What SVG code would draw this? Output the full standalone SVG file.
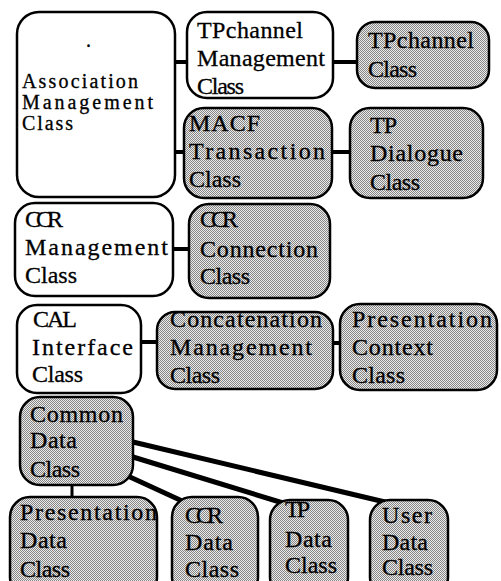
<svg xmlns="http://www.w3.org/2000/svg" width="501" height="581" viewBox="0 0 501 581">
<defs>
<pattern id="dots" width="2" height="2" patternUnits="userSpaceOnUse">
<rect width="2" height="2" fill="#ebebeb"/>
<rect x="0" y="0" width="1" height="1" fill="#858585"/>
<rect x="1" y="1" width="1" height="1" fill="#858585"/>
</pattern>
</defs>
<style>
.box{stroke:#000;stroke-width:2.5;fill:#fff}
.g{fill:url(#dots)}
.t{font-family:"Liberation Serif","Times New Roman",serif;font-size:24px;fill:#000;stroke:#000;stroke-width:0.3}
.s{font-size:20px}
.c{stroke:#000;stroke-width:4;fill:none}
.c2{stroke:#000;stroke-width:5;fill:none;stroke-linecap:round}
</style>
<rect width="501" height="581" fill="#fff"/>
<g id="connectors">
<line class="c" x1="175" y1="62" x2="188" y2="62"/>
<line class="c" x1="175" y1="152" x2="185" y2="152"/>
<line class="c" x1="333" y1="62" x2="358" y2="62"/>
<line class="c" x1="332" y1="152" x2="351" y2="152"/>
<line class="c" x1="173" y1="249" x2="190" y2="249"/>
<line class="c" x1="141" y1="342" x2="158" y2="342"/>
<line class="c" x1="333" y1="343" x2="341" y2="343"/>
<line class="c" style="stroke-width:3" x1="72" y1="485" x2="72" y2="498"/>
<line class="c2" x1="133" y1="442" x2="385" y2="502"/>
<line class="c2" x1="133" y1="457" x2="283" y2="503"/>
<line class="c2" x1="130" y1="477" x2="180" y2="500"/>
</g>
<g id="assoc">
<rect class="box" x="17" y="12" width="158" height="185" rx="22"/>
<text class="t s" x="86" y="47">.</text>
<text class="t s" x="22" y="88" textLength="116" lengthAdjust="spacing">Association</text>
<text class="t s" x="22" y="109" textLength="131" lengthAdjust="spacing">Management</text>
<text class="t s" x="22" y="130" textLength="51" lengthAdjust="spacing">Class</text>
</g>
<g id="tpchMgmt">
<rect class="box" x="187" y="12" width="146" height="86" rx="20"/>
<text class="t" x="197" y="38" textLength="106" lengthAdjust="spacing">TPchannel</text>
<text class="t" x="197" y="66" textLength="128" lengthAdjust="spacing">Management</text>
<text class="t" x="197" y="94" textLength="47" lengthAdjust="spacing">Class</text>
</g>
<g id="macf">
<rect class="box g" x="184" y="108" width="148" height="90" rx="20"/>
<text class="t" x="189" y="131" textLength="71" lengthAdjust="spacing">MACF</text>
<text class="t" x="189" y="159" textLength="136" lengthAdjust="spacing">Transaction</text>
<text class="t" x="189" y="187" textLength="52" lengthAdjust="spacing">Class</text>
</g>
<g id="tpch">
<rect class="box g" x="357" y="22" width="132" height="66" rx="18"/>
<text class="t" x="368" y="48" textLength="106" lengthAdjust="spacing">TPchannel</text>
<text class="t" x="368" y="77" textLength="49" lengthAdjust="spacing">Class</text>
</g>
<g id="tpDialogue">
<rect class="box g" x="350" y="108" width="133" height="90" rx="20"/>
<text class="t" x="370" y="133" textLength="27" lengthAdjust="spacing">TP</text>
<text class="t" x="370" y="161" textLength="93" lengthAdjust="spacing">Dialogue</text>
<text class="t" x="370" y="190" textLength="50" lengthAdjust="spacing">Class</text>
</g>
<g id="ccrMgmt">
<rect class="box" x="15" y="203" width="158" height="93" rx="20"/>
<text class="t" x="25" y="227" textLength="38" lengthAdjust="spacing">CCR</text>
<text class="t" x="25" y="255" textLength="143" lengthAdjust="spacing">Management</text>
<text class="t" x="25" y="283" textLength="52" lengthAdjust="spacing">Class</text>
</g>
<g id="ccrConn">
<rect class="box g" x="189" y="204" width="141" height="94" rx="20"/>
<text class="t" x="200" y="227" textLength="38" lengthAdjust="spacing">CCR</text>
<text class="t" x="200" y="257" textLength="118" lengthAdjust="spacing">Connection</text>
<text class="t" x="200" y="284" textLength="50" lengthAdjust="spacing">Class</text>
</g>
<g id="cal">
<rect class="box" x="17" y="305" width="124" height="88" rx="20"/>
<text class="t" x="33" y="327" textLength="44" lengthAdjust="spacing">CAL</text>
<text class="t" x="32" y="355" textLength="101" lengthAdjust="spacing">Interface</text>
<text class="t" x="32" y="382" textLength="51" lengthAdjust="spacing">Class</text>
</g>
<g id="concat">
<rect class="box g" x="157" y="312" width="176" height="77" rx="18"/>
<text class="t" x="170" y="327" textLength="152" lengthAdjust="spacing">Concatenation</text>
<text class="t" x="170" y="355" textLength="142" lengthAdjust="spacing">Management</text>
<text class="t" x="170" y="383" textLength="50" lengthAdjust="spacing">Class</text>
</g>
<g id="presCtx">
<rect class="box g" x="340" y="304" width="157" height="86" rx="20"/>
<text class="t" x="352" y="327" textLength="140" lengthAdjust="spacing">Presentation</text>
<text class="t" x="352" y="355" textLength="81" lengthAdjust="spacing">Context</text>
<text class="t" x="352" y="383" textLength="53" lengthAdjust="spacing">Class</text>
</g>
<g id="common">
<rect class="box g" x="20" y="397" width="113" height="88" rx="20"/>
<text class="t" x="30" y="422" textLength="93" lengthAdjust="spacing">Common</text>
<text class="t" x="30" y="448" textLength="47" lengthAdjust="spacing">Data</text>
<text class="t" x="30" y="477" textLength="50" lengthAdjust="spacing">Class</text>
</g>
<g id="presData">
<rect class="box g" x="10" y="497" width="147" height="100" rx="20"/>
<text class="t" x="20" y="520" textLength="137" lengthAdjust="spacing">Presentation</text>
<text class="t" x="20" y="548" textLength="47" lengthAdjust="spacing">Data</text>
<text class="t" x="20" y="577" textLength="50" lengthAdjust="spacing">Class</text>
</g>
<g id="ccrData">
<rect class="box g" x="172" y="497" width="86" height="100" rx="20"/>
<text class="t" x="185" y="523" textLength="38" lengthAdjust="spacing">CCR</text>
<text class="t" x="185" y="550" textLength="48" lengthAdjust="spacing">Data</text>
<text class="t" x="185" y="577" textLength="54" lengthAdjust="spacing">Class</text>
</g>
<g id="tpData">
<rect class="box g" x="270" y="500" width="78" height="97" rx="20"/>
<text class="t" x="285" y="517" textLength="25" lengthAdjust="spacing">TP</text>
<text class="t" x="285" y="547" textLength="47" lengthAdjust="spacing">Data</text>
<text class="t" x="285" y="573" textLength="52" lengthAdjust="spacing">Class</text>
</g>
<g id="userData">
<rect class="box g" x="370" y="500" width="78" height="97" rx="20"/>
<text class="t" x="382" y="523" textLength="50" lengthAdjust="spacing">User</text>
<text class="t" x="382" y="550" textLength="46" lengthAdjust="spacing">Data</text>
<text class="t" x="382" y="575" textLength="51" lengthAdjust="spacing">Class</text>
</g>
</svg>
